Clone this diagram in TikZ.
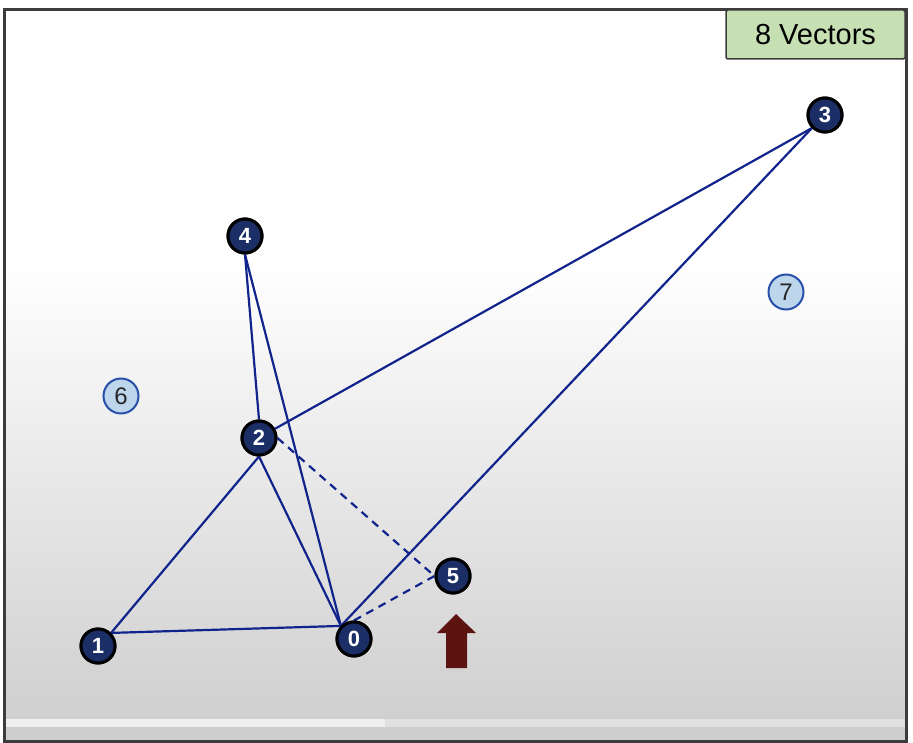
\documentclass[tikz,border=0pt]{standalone}
\usepackage{fontspec}
\setmainfont{Liberation Sans}
\definecolor{navyfill}{RGB}{27,47,102}
\definecolor{edgeblue}{RGB}{16,36,140}
\definecolor{ghostfill}{RGB}{190,214,236}
\definecolor{ghostring}{RGB}{40,80,170}
\definecolor{legendgreen}{RGB}{198,224,180}
\definecolor{arrowred}{RGB}{92,20,16}
\definecolor{bottomgray}{RGB}{205,205,205}
\definecolor{framegray}{RGB}{60,60,60}
\tikzset{
  vec/.style={circle, fill=navyfill, draw=black, line width=3pt, minimum size=34pt, inner sep=0pt, text=white, font=\fontsize{22}{22}\selectfont\bfseries},
  ghost/.style={circle, fill=ghostfill, draw=ghostring, line width=2pt, minimum size=35pt, inner sep=0pt, text=black!85, font=\fontsize{24}{24}\selectfont},
  link/.style={draw=edgeblue, line width=2.2pt},
  dlink/.style={link, dash pattern=on 8pt off 6pt},
  legend/.style={draw=framegray, line width=1.5pt, fill=legendgreen, rounded corners=1.5pt, minimum width=179pt, minimum height=49pt, inner sep=0pt, font=\fontsize{29}{29}\selectfont}
}
\begin{document}
\begin{tikzpicture}[x=1pt,y=-1pt]
\useasboundingbox (0,0) rectangle (913,743);
\fill[white] (0,0) rectangle (913,743);
\shade[top color=white, bottom color=bottomgray] (4,260) rectangle (906,741);
% scrollbar
\fill[black!12] (4,719) rectangle (906,727);
\fill[black!6] (4,719) rectangle (385,727);
% frame
\draw[framegray, line width=3pt] (4,741) -- (4,10) -- (906,10) -- (906,741) -- cycle;
% legend
\node[legend] (leg) at (815.5,34.5) {8 Vectors};
% nodes
\node[vec] (n0) at (354,639) {0};
\node[vec] (n1) at (98,646) {1};
\node[vec] (n2) at (259,438) {2};
\node[vec] (n3) at (825,115) {3};
\node[vec] (n4) at (245,236) {4};
\node[vec] (n5) at (453,576) {5};
\node[ghost] (n6) at (121,396) {6};
\node[ghost] (n7) at (786,292) {7};
% edges
\draw[link] (n1.north east) -- (n0.north west);
\draw[link] (n1.north east) -- (n2.south);
\draw[link] (n2.south) -- (n0.north west);
\draw[link] (n4.south) -- (n2.north);
\draw[link] (n4.south) -- (n0.north west);
\draw[link] (n2.30) -- (n3.south west);
\draw[link] (n3.south west) -- (n0.north west);
\draw[dlink] (n2.east) -- (n5.west);
\draw[dlink] (n0.north) -- (n5.west);
% redraw nodes on top of the connectors
\node[vec] at (n0) {0};
\node[vec] at (n1) {1};
\node[vec] at (n2) {2};
\node[vec] at (n3) {3};
\node[vec] at (n4) {4};
\node[vec] at (n5) {5};
% arrow
\fill[arrowred] (456,614) -- (476,633) -- (467,633) -- (467,668) -- (446,668) -- (446,633) -- (437,633) -- cycle;
\end{tikzpicture}
\end{document}
